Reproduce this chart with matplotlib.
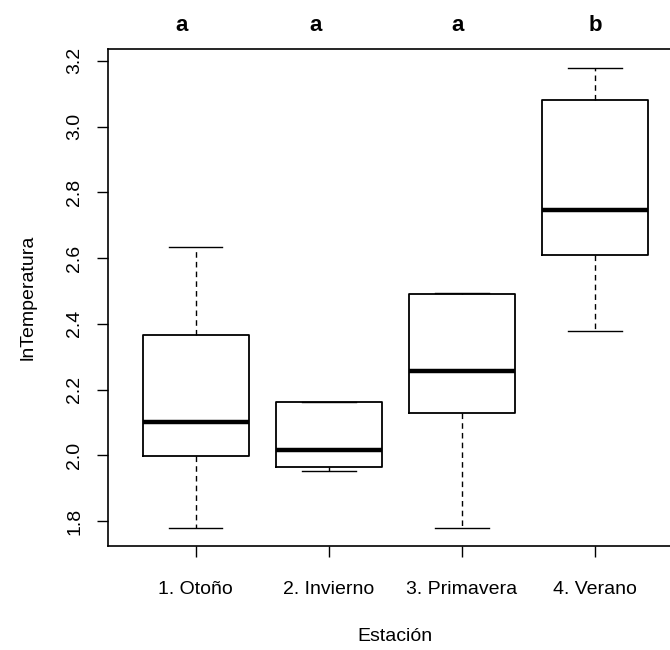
import matplotlib
matplotlib.use("Agg")
import matplotlib.pyplot as plt

plt.rcParams["font.family"] = ["Liberation Sans", "DejaVu Sans"]

# values (box stats of ln temperature per season)
estaciones = ["1. Otoño", "2. Invierno", "3. Primavera", "4. Verano"]
whis_lo = [1.779, 1.952, 1.779, 2.377]
q1 = [1.997, 1.964, 2.129, 2.609]
mediana = [2.101, 2.016, 2.257, 2.746]
q3 = [2.365, 2.161, 2.490, 3.080]
whis_hi = [2.634, 2.161, 2.493, 3.179]
letras = ["a", "a", "a", "b"]
letra_x = [0.89, 1.90, 2.97, 4.0]
yticks = [1.8, 2.0, 2.2, 2.4, 2.6, 2.8, 3.0, 3.2]

stats = []
for i in range(len(estaciones)):
    stats.append({"whislo": whis_lo[i], "q1": q1[i], "med": mediana[i],
                  "q3": q3[i], "whishi": whis_hi[i], "fliers": []})

fig = plt.figure(figsize=(6.7, 6.5), dpi=100)
# plot region runs past the right edge of the picture, as in the original
ax = fig.add_axes([0.1612, 0.16, 0.858, 0.7646])

ax.bxp(stats, positions=[1, 2, 3, 4], widths=0.8, showfliers=False,
       boxprops=dict(color="black", linewidth=1.3),
       medianprops=dict(color="black", linewidth=3.2, solid_capstyle="butt"),
       whiskerprops=dict(color="black", linewidth=1.0, linestyle=(0, (4, 3))),
       capprops=dict(color="black", linewidth=1.0),
       capwidths=0.4)

ax.set_xlim(0.34, 4.66)
ax.set_ylim(1.724, 3.236)
ax.set_xticks([1, 2, 3, 4])
ax.set_xticklabels(estaciones, fontsize=14)
ax.set_yticks(yticks)
ax.set_yticklabels(["%.1f" % v for v in yticks], fontsize=14, rotation=90, va="center")
ax.tick_params(axis="both", direction="out", length=8, width=1.0, color="black")
ax.tick_params(axis="x", pad=17)
ax.tick_params(axis="y", pad=10)
for s in ax.spines.values():
    s.set_linewidth(1.2)

ax.set_xlabel("Estación", fontsize=14, labelpad=22)
ax.set_ylabel("lnTemperatura", fontsize=14, labelpad=21)

for x, l in zip(letra_x, letras):
    ax.text(x, 1.048, l, transform=ax.get_xaxis_transform(), ha="center", va="center",
            fontsize=16, fontweight="bold")

fig.savefig("out.png", dpi=100)
